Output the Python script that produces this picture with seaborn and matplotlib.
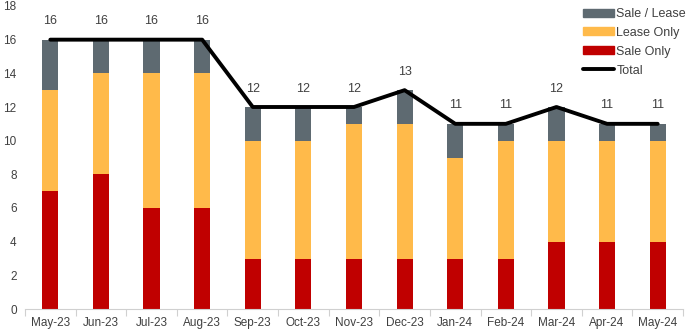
import matplotlib
matplotlib.use("Agg")
import matplotlib.pyplot as plt
import seaborn as sns
import numpy as np
from matplotlib.patches import Patch
from matplotlib.lines import Line2D

months = ["May-23", "Jun-23", "Jul-23", "Aug-23", "Sep-23", "Oct-23", "Nov-23",
          "Dec-23", "Jan-24", "Feb-24", "Mar-24", "Apr-24", "May-24"]
sale_only = [7, 8, 6, 6, 3, 3, 3, 3, 3, 3, 4, 4, 4]
lease_only = [6, 6, 8, 8, 7, 7, 8, 8, 6, 7, 6, 6, 6]
sale_lease = [3, 2, 2, 2, 2, 2, 1, 2, 2, 1, 2, 1, 1]
total = [16, 16, 16, 16, 12, 12, 12, 13, 11, 11, 12, 11, 11]

c_sale = "#C00000"
c_lease = "#FFBA4A"
c_sl = "#5E6A71"

sns.set_theme(style="white")
plt.rcParams["font.family"] = ["Liberation Sans", "DejaVu Sans"]

fig = plt.figure(figsize=(6.92, 3.35), dpi=100)
ax = fig.add_axes([25/692, 1-309/335, (683-25)/692, (309-6)/335])

sale_arr = np.array(sale_only)
lease_arr = np.array(lease_only)
sns.barplot(x=months, y=sale_only, color=c_sale, width=0.32, ax=ax,
            saturation=1, linewidth=0)
sns.barplot(x=months, y=lease_only, bottom=sale_arr, color=c_lease, width=0.32,
            ax=ax, saturation=1, linewidth=0)
sns.barplot(x=months, y=sale_lease, bottom=sale_arr + lease_arr, color=c_sl,
            width=0.32, ax=ax, saturation=1, linewidth=0)
sns.lineplot(x=np.arange(len(months)), y=total, color="black", linewidth=2.8,
             ax=ax, legend=False)

for i, t in enumerate(total):
    ax.annotate(str(t), (i, t), xytext=(0, 9), textcoords="offset points",
                ha="center", va="bottom", fontsize=9, color="#404040")

ax.set_xlim(-0.5, len(months) - 0.5)
ax.set_ylim(0, 18)
ax.set_yticks(range(0, 19, 2))
ax.set_xticks(range(len(months)))
ax.set_xticklabels(months)
ax.set_xticks(np.arange(-0.5, len(months), 1), minor=True)
ax.tick_params(axis="x", which="major", length=0, labelsize=8.5, labelcolor="#404040", pad=6)
ax.tick_params(axis="x", which="minor", length=5, color="#D0D0D0", width=0.8, bottom=True)
ax.tick_params(axis="y", length=0, labelsize=8.5, labelcolor="#404040", pad=6)
for s in ["top", "right", "left"]:
    ax.spines[s].set_visible(False)
ax.spines["bottom"].set_color("#D0D0D0")
ax.spines["bottom"].set_linewidth(0.8)
ax.set_xlabel("")
ax.set_ylabel("")

handles = [Patch(color=c_sl, label="Sale / Lease"),
           Patch(color=c_lease, label="Lease Only"),
           Patch(color=c_sale, label="Sale Only"),
           Line2D([0], [0], color="black", linewidth=2.8, label="Total")]
leg = ax.legend(handles=handles, loc="upper right", bbox_to_anchor=(1.012, 1.01),
                frameon=False, fontsize=9, handlelength=2.5, handleheight=0.6,
                handletextpad=0.2, labelspacing=0.55, borderaxespad=0)
for t in leg.get_texts():
    t.set_color("#404040")

fig.savefig("out.png", dpi=100)
